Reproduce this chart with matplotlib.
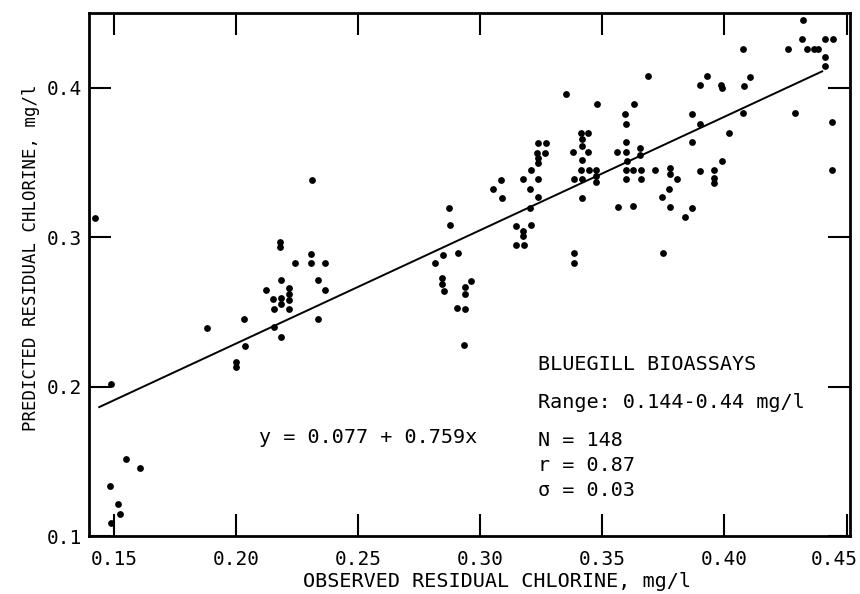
import numpy as np
import matplotlib
matplotlib.use("Agg")
import matplotlib.pyplot as plt
from matplotlib.transforms import ScaledTranslation

plt.rcParams['font.family'] = ['DejaVu Sans Mono', 'DejaVu Sans']

# observed (x) vs predicted (y) residual chlorine, mg/l
obs = [
    # low end
    0.1424, 0.1487, 0.1550, 0.1605, 0.1485, 0.1516, 0.1523, 0.1490,
    # 0.19 - 0.24
    0.2310, 0.2182, 0.2182, 0.2243, 0.2307, 0.2305, 0.2366, 0.2185, 0.2337,
    0.2123, 0.2216, 0.2216, 0.2366, 0.2153, 0.2183, 0.2183, 0.2215, 0.2157,
    0.2215, 0.2032, 0.1880, 0.2157, 0.2334, 0.2183, 0.2036, 0.2000, 0.2000,
    # 0.28 - 0.30
    0.2873, 0.2876, 0.2815, 0.2846, 0.2907, 0.2842, 0.2842, 0.2850, 0.2964,
    0.2937, 0.2937, 0.2904, 0.2937, 0.2934,
    # 0.30 - 0.33
    0.3053, 0.3084, 0.3087, 0.3146, 0.3177, 0.3177, 0.3146, 0.3180, 0.3207,
    0.3205, 0.3205, 0.3177, 0.3207, 0.3237, 0.3237, 0.3237, 0.3237, 0.3234,
    0.3264, 0.3237, 0.3268,
    # 0.335 - 0.36
    0.3384, 0.3384, 0.3384, 0.3350, 0.3476, 0.3592, 0.3596, 0.3412, 0.3442,
    0.3415, 0.3415, 0.3381, 0.3443, 0.3561, 0.3596, 0.3415, 0.3412, 0.3446,
    0.3473, 0.3596, 0.3415, 0.3473, 0.3473, 0.3596, 0.3415, 0.3564, 0.3599,
    0.3596,
    # 0.36 - 0.39
    0.3630, 0.3898, 0.3865, 0.3898, 0.3868, 0.3654, 0.3654, 0.3626, 0.3657,
    0.3717, 0.3777, 0.3777, 0.3898, 0.3657, 0.3807, 0.3773, 0.3746, 0.3626,
    0.3777, 0.3868, 0.3838, 0.3750, 0.3687,
    # 0.39 - 0.45
    0.4321, 0.4318, 0.4411, 0.4444, 0.4261, 0.4337, 0.4365, 0.4382, 0.4411,
    0.4411, 0.4077, 0.3929, 0.4105, 0.3985, 0.3990, 0.4080, 0.4076, 0.4288,
    0.4441, 0.4018, 0.3988, 0.3957, 0.3957, 0.3957, 0.4441,
]
pred = [
    0.3129, 0.2018, 0.1513, 0.1456, 0.1333, 0.1211, 0.1145, 0.1089,
    0.3380, 0.2965, 0.2935, 0.2829, 0.2885, 0.2825, 0.2829, 0.2711, 0.2711,
    0.2645, 0.2662, 0.2618, 0.2645, 0.2585, 0.2596, 0.2556, 0.2580, 0.2520,
    0.2518, 0.2451, 0.2395, 0.2400, 0.2455, 0.2329, 0.2269, 0.2162, 0.2133,
    0.3196, 0.3080, 0.2829, 0.2880, 0.2891, 0.2729, 0.2684, 0.2640, 0.2707,
    0.2667, 0.2620, 0.2529, 0.2522, 0.2280,
    0.3322, 0.3385, 0.3262, 0.3073, 0.3040, 0.3007, 0.2947, 0.2947, 0.3080,
    0.3196, 0.3325, 0.3389, 0.3447, 0.3389, 0.3267, 0.3527, 0.3493, 0.3562,
    0.3562, 0.3633, 0.3633,
    0.2895, 0.2829, 0.3391, 0.3955, 0.3889, 0.3822, 0.3758, 0.3700, 0.3700,
    0.3655, 0.3607, 0.3573, 0.3573, 0.3573, 0.3573, 0.3513, 0.3451, 0.3451,
    0.3451, 0.3451, 0.3389, 0.3407, 0.3367, 0.3389, 0.3262, 0.3200, 0.3507,
    0.3635,
    0.3891, 0.4018, 0.3825, 0.3758, 0.3635, 0.3595, 0.3551, 0.3447, 0.3447,
    0.3451, 0.3462, 0.3420, 0.3445, 0.3389, 0.3391, 0.3325, 0.3267, 0.3207,
    0.3200, 0.3196, 0.3138, 0.2891, 0.4080,
    0.4451, 0.4325, 0.4325, 0.4325, 0.4262, 0.4262, 0.4262, 0.4262, 0.4207,
    0.4145, 0.4262, 0.4078, 0.4073, 0.4015, 0.3995, 0.4011, 0.3829, 0.3829,
    0.3769, 0.3700, 0.3507, 0.3447, 0.3395, 0.3362, 0.3451,
]

intercept = 0.077
slope = 0.759
fit_range = [0.144, 0.44]

x_ticks = [0.15, 0.20, 0.25, 0.30, 0.35, 0.40, 0.45]
y_ticks = [0.1, 0.2, 0.3, 0.4]

stats_lines = ["N = 148", "r = 0.87", "\u03c3 = 0.03"]

fig = plt.figure(figsize=(8.6, 5.94), dpi=100)
ax = fig.add_axes([0.1035, 0.0976, 0.8849, 0.8805])

ax.scatter(obs, pred, s=24, c='black', marker='o', linewidths=0, zorder=3)

xf = np.array(fit_range)
ax.plot(xf, intercept + slope * xf, color='black', lw=1.4, zorder=2)

ax.set_xlim(0.1398, 0.4514)
ax.set_ylim(0.1, 0.45)
ax.set_xticks(x_ticks)
ax.set_xticklabels(['%.2f' % v for v in x_ticks])
ax.set_yticks(y_ticks)
ax.set_yticklabels(['%.1f' % v for v in y_ticks])

ax.tick_params(axis='both', which='major', direction='in', length=16, width=1.5,
               top=True, right=True, labelsize=14, color='black')
ax.tick_params(axis='x', pad=10)
ax.tick_params(axis='y', pad=5)
for sp in ax.spines.values():
    sp.set_linewidth(2.0)

# last x label sits a bit left in the original so it stays on the page
last = ax.get_xticklabels()[-1]
last.set_transform(last.get_transform() + ScaledTranslation(-0.12, 0, fig.dpi_scale_trans))

ax.set_xlabel('OBSERVED RESIDUAL CHLORINE, mg/l', fontsize=14.5, va='center')
ax.xaxis.set_label_coords(0.536, -0.086)
ax.set_ylabel('PREDICTED RESIDUAL CHLORINE, mg/l', fontsize=12.5, va='center')
ax.yaxis.set_label_coords(-0.076, 0.533)

ax.text(0.2096, 0.166, 'y = 0.077 + 0.759x', fontsize=14.5, va='center', ha='left')
ax.text(0.3237, 0.2147, 'BLUEGILL BIOASSAYS', fontsize=14.5, va='center', ha='left')
ax.text(0.3237, 0.1893, 'Range: 0.144-0.44 mg/l', fontsize=14.5, va='center', ha='left')
for i, line in enumerate(stats_lines):
    ax.text(0.3237, 0.164 - i * 0.0167, line, fontsize=14.5, va='center', ha='left')

fig.savefig('out.png', dpi=100)
